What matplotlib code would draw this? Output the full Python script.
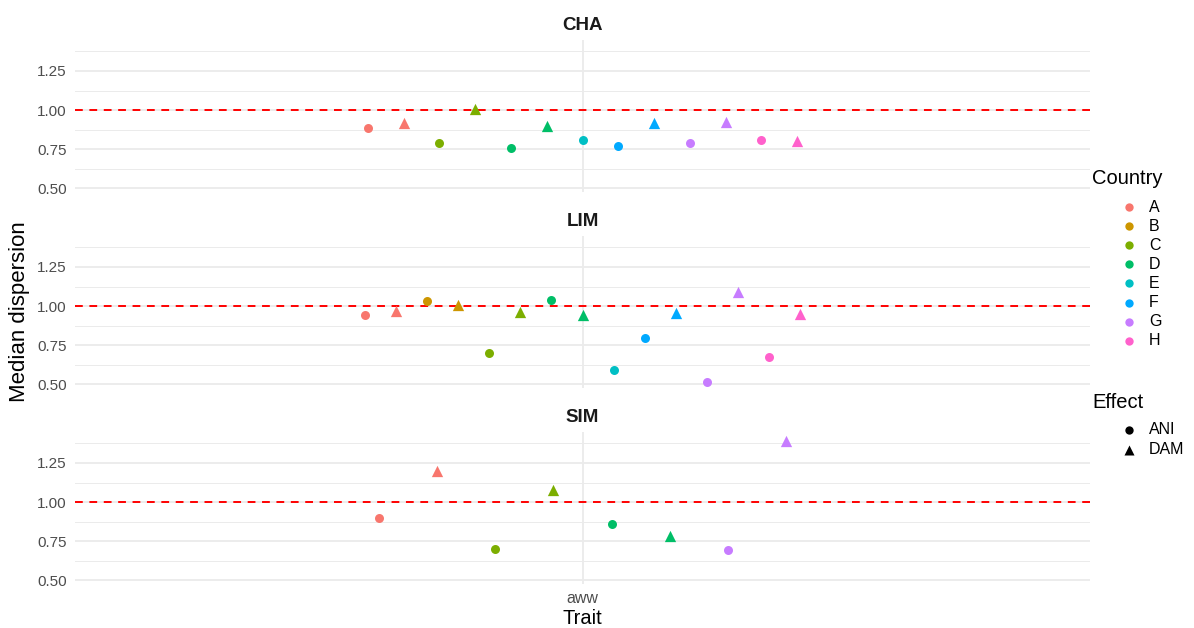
import matplotlib
matplotlib.use("Agg")
import matplotlib.pyplot as plt

plt.rcParams["font.family"] = ["Liberation Sans", "DejaVu Sans"]

# ---- data -------------------------------------------------------------
trait = "aww"
panels = ["CHA", "LIM", "SIM"]
countries = ["A", "B", "C", "D", "E", "F", "G", "H"]
effects = ["ANI", "DAM"]
palette = ["#F8766D", "#CD9600", "#7CAE00", "#00BE67",
           "#00BFC4", "#00A9FF", "#C77CFF", "#FF61CC"]

cha_country = ["A", "A", "C", "C", "D", "D", "E", "F", "F", "G", "G", "H", "H"]
cha_effect = ["ANI", "DAM", "ANI", "DAM", "ANI", "DAM", "ANI", "ANI", "DAM",
              "ANI", "DAM", "ANI", "DAM"]
cha_value = [0.888, 0.92, 0.79, 1.006, 0.76, 0.90, 0.81, 0.77, 0.92,
             0.79, 0.925, 0.81, 0.80]

lim_country = ["A", "A", "B", "B", "C", "C", "D", "D", "E", "F", "F", "G", "G", "H", "H"]
lim_effect = ["ANI", "DAM", "ANI", "DAM", "ANI", "DAM", "ANI", "DAM", "ANI",
              "ANI", "DAM", "ANI", "DAM", "ANI", "DAM"]
lim_value = [0.944, 0.966, 1.034, 1.005, 0.703, 0.96, 1.037, 0.944, 0.588,
             0.797, 0.955, 0.517, 1.088, 0.675, 0.95]

sim_country = ["A", "A", "C", "C", "D", "D", "G", "G"]
sim_effect = ["ANI", "DAM", "ANI", "DAM", "ANI", "DAM", "ANI", "DAM"]
sim_value = [0.895, 1.20, 0.703, 1.08, 0.857, 0.78, 0.695, 1.393]

panel_data = {
    "CHA": (cha_country, cha_effect, cha_value),
    "LIM": (lim_country, lim_effect, lim_value),
    "SIM": (sim_country, sim_effect, sim_value),
}

y_ticks = [0.50, 0.75, 1.00, 1.25]
y_minor = [0.625, 0.875, 1.125, 1.375]
reference = 1.0

# ---- layout -----------------------------------------------------------
W, H = 1194, 628
fig = plt.figure(figsize=(W / 100, H / 100), dpi=100)
fig.patch.set_facecolor("white")

left_px, right_px = 75, 1090
panel_tops = [40, 236, 432]
panel_h = 152
ylim = (0.476, 1.448)
xlim = (0.4, 1.6)
dodge_width = 0.55
grid_col = "#EBEBEB"
text_col = "#4D4D4D"
markers = {"ANI": "o", "DAM": "^"}
msize = {"ANI": 42, "DAM": 66}

for k, name in enumerate(panels):
    top = panel_tops[k]
    ax = fig.add_axes([left_px / W, 1 - (top + panel_h) / H,
                       (right_px - left_px) / W, panel_h / H])
    ax.set_xlim(*xlim)
    ax.set_ylim(*ylim)
    for s in ax.spines.values():
        s.set_visible(False)
    ax.set_facecolor("white")

    for y in y_minor:
        ax.axhline(y, color=grid_col, lw=0.7, zorder=0)
    for y in y_ticks:
        ax.axhline(y, color=grid_col, lw=1.3, zorder=0)
    ax.axvline(1, color=grid_col, lw=1.3, zorder=0)

    ax.axhline(reference, color="#FF0000", lw=1.4,
               linestyle=(0, (4.0, 3.4)), zorder=1)

    cty, eff, val = panel_data[name]
    n = len(val)
    for i in range(n):
        xpos = 1 + (i - (n - 1) / 2) * dodge_width / n
        ax.scatter(xpos, val[i], marker=markers[eff[i]], s=msize[eff[i]],
                   color=palette[countries.index(cty[i])], linewidths=0,
                   zorder=3)

    ax.set_yticks(y_ticks)
    ax.set_yticklabels([f"{t:.2f}" for t in y_ticks])
    ax.tick_params(axis="y", length=0, labelsize=11, labelcolor=text_col, pad=6)
    if k == len(panels) - 1:
        ax.set_xticks([1])
        ax.set_xticklabels([trait])
        ax.tick_params(axis="x", length=0, labelsize=11.5, labelcolor=text_col, pad=5)
    else:
        ax.set_xticks([])

    fig.text((left_px + right_px) / 2 / W, 1 - (top - 14) / H, name,
             ha="center", va="center", fontsize=13.5, fontweight="bold",
             color="#1A1A1A")

fig.text(20 / W, 1 - 312 / H, "Median dispersion", rotation=90,
         ha="center", va="center", fontsize=16, color="black")
fig.text(582 / W, 1 - 619 / H, "Trait", ha="center", va="center",
         fontsize=14.5, color="black")

# ---- legends ----------------------------------------------------------
lax = fig.add_axes([0, 0, 1, 1])
lax.set_xlim(0, W)
lax.set_ylim(H, 0)
lax.axis("off")

lax.text(1092, 178, "Country", ha="left", va="center", fontsize=14.5, color="black")
for i, c in enumerate(countries):
    yy = 207 + i * 19.1
    lax.scatter(1129, yy, marker="o", s=36, color=palette[i], linewidths=0)
    lax.text(1149, yy, c, ha="left", va="center", fontsize=11.5, color="black")

lax.text(1092, 402, "Effect", ha="left", va="center", fontsize=14.5, color="black")
for i, e in enumerate(effects):
    yy = 430 + i * 19.5
    lax.scatter(1129, yy, marker=markers[e], s=36 if e == "ANI" else 52,
                color="black", linewidths=0)
    lax.text(1149, yy, e, ha="left", va="center", fontsize=11.5, color="black")

fig.savefig("out.png", dpi=100, facecolor="white")
